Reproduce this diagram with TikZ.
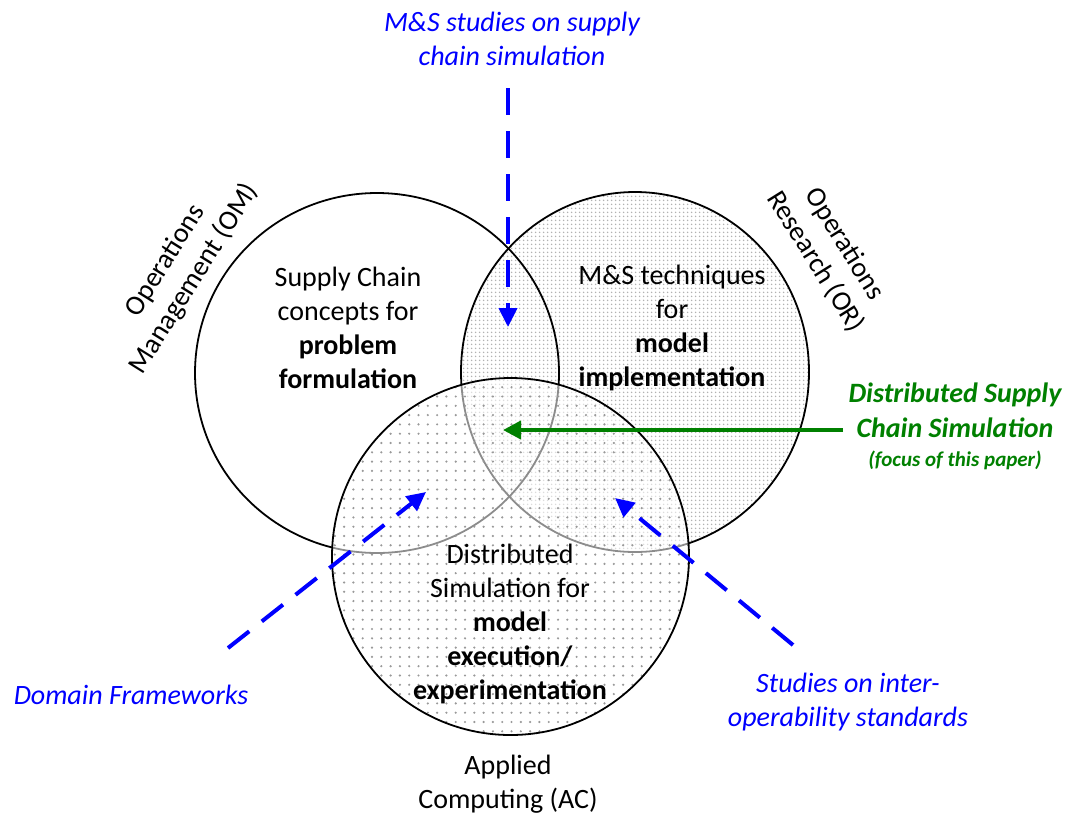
\documentclass[tikz,border=0pt]{standalone}
\usepackage{fontspec}
\setmainfont{Carlito}
\usetikzlibrary{arrows.meta,patterns.meta}
\definecolor{linkblue}{RGB}{0,0,255}
\definecolor{focusgreen}{RGB}{0,128,0}

\begin{document}
\begin{tikzpicture}[x=1pt,y=-1pt,
  lbl/.style={font=\fontsize{28}{34}\selectfont, align=center, inner sep=0pt},
  note/.style={font=\fontsize{28}{34}\selectfont\itshape, align=center, inner sep=0pt, text=linkblue},
  ring/.style={line width=1.8pt},
  feed/.style={draw=linkblue, line width=4pt, dash pattern=on 27pt off 16pt,
               -{Triangle[length=19pt,width=18pt]}},
  focus/.style={draw=focusgreen, line width=4pt, -{Triangle[length=18pt,width=18pt]}},
]
\useasboundingbox (0,0) rectangle (1070,815);

% Operations Research: densely dotted disc
\fill[pattern={Dots[distance=4pt, radius=1pt]}, pattern color=black!30]
  (635,372) ellipse [x radius=174pt, y radius=180pt];
% outlines of the two upper discs
\draw[ring] (377,373) ellipse [x radius=182pt, y radius=180pt];
\draw[ring] (635,372) ellipse [x radius=174pt, y radius=180pt];

% Applied Computing: translucent, sparsely dotted disc on top
\fill[white, fill opacity=0.55] (510.5,556.5) circle [radius=178.5pt];
\fill[pattern={Dots[distance=9.3pt, radius=1.2pt]}, pattern color=black!40]
  (510.5,556.5) circle [radius=178.5pt];
\draw[ring] (510.5,556.5) circle [radius=178.5pt];

% texts inside the discs
\node[lbl] (omtext) at (348,328) {Supply Chain\\concepts for\\\textbf{problem}\\\textbf{formulation}};
\node[lbl] (ortext) at (672,328) {M\&S techniques\\for\\\textbf{model}\\\textbf{implementation}};
\node[lbl] (actext) at (510,624) {Distributed\\Simulation for\\\textbf{model}\\\textbf{execution/}\\\textbf{experimentation}};

% discipline names
\node[lbl, rotate=58] (omname) at (180,270) {Operations\\Management (OM)};
\node[lbl, rotate=-58] (orname) at (830,253) {Operations\\Research (OR)};
\node[lbl] (acname) at (508,784) {Applied\\Computing (AC)};

% literature streams
\node[note] (mstud) at (512,39) {M\&S studies on supply\\chain simulation};
\node[note] (domain) at (131,695) {Domain Frameworks};
\node[note] (interop) at (848,702) {Studies on inter-\\operability standards};
\node[font=\fontsize{28}{35}\selectfont\bfseries\itshape, align=center, inner sep=0pt, text=focusgreen]
  (focustext) at (955,426) {Distributed Supply\\Chain Simulation\\[-6pt]{\fontsize{21}{24}\selectfont (focus of this paper)}};

% arrow end points
\coordinate (mstudA) at (508,88);
\coordinate (mstudB) at (508,327);
\coordinate (domA) at (228,648);
\coordinate (domB) at (426,492);
\coordinate (intA) at (793,645);
\coordinate (intB) at (615,498);
\coordinate (focA) at (843,430);
\coordinate (focB) at (503,430);

\draw[feed] (mstudA) -- (mstudB);
\draw[feed] (domA) -- (domB);
\draw[feed] (intA) -- (intB);
\draw[focus] (focA) -- (focB);
\end{tikzpicture}
\end{document}
